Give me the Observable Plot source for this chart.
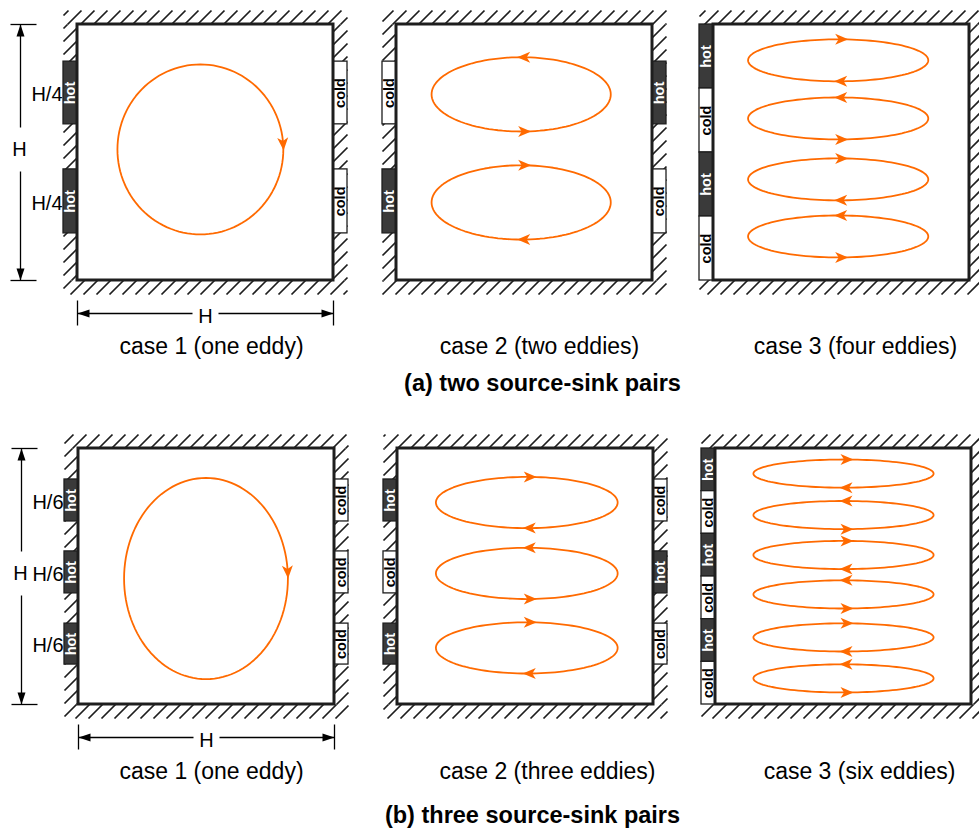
<!DOCTYPE html>
<html><head><meta charset="utf-8">
<script src="https://cdn.jsdelivr.net/npm/d3@7"></script>
<script src="https://cdn.jsdelivr.net/npm/@observablehq/plot@0.6"></script>
<style>body{margin:0;background:#fff}</style>
</head><body><div id="chart"></div>
<script>
// ---------- DATA ----------
const rowTitles = ["(a) two source-sink pairs", "(b) three source-sink pairs"];
const caseLabels = [
  ["case 1 (one eddy)", "case 2 (two eddies)", "case 3 (four eddies)"],
  ["case 1 (one eddy)", "case 2 (three eddies)", "case 3 (six eddies)"]
];
const dimLabels = [["H", "H/4"], ["H", "H/6"]];
// heat sources/sinks: [wall, kind, from, to] (fraction of H from the top)
const sourcesA1 = [["left","hot",0.145,0.39],["left","hot",0.566,0.816],["right","cold",0.145,0.39],["right","cold",0.566,0.816]];
const sourcesA2 = [["left","cold",0.145,0.39],["left","hot",0.566,0.816],["right","hot",0.145,0.39],["right","cold",0.566,0.816]];
const sourcesA3 = [["left","hot",0,0.25],["left","cold",0.25,0.5],["left","hot",0.5,0.75],["left","cold",0.75,1]];
const sourcesB1 = [["left","hot",0.121,0.285],["left","hot",0.402,0.566],["left","hot",0.684,0.844],["right","cold",0.121,0.285],["right","cold",0.402,0.566],["right","cold",0.684,0.844]];
const sourcesB2 = [["left","hot",0.121,0.285],["left","cold",0.402,0.566],["left","hot",0.684,0.844],["right","cold",0.121,0.285],["right","hot",0.402,0.566],["right","cold",0.684,0.844]];
const sourcesB3 = [["left","hot",0,1/6],["left","cold",1/6,2/6],["left","hot",2/6,3/6],["left","cold",3/6,4/6],["left","hot",4/6,5/6],["left","cold",5/6,1]];
// eddies: [cx, cy, rx, ry, direction] (fractions of H)
const eddiesA1 = [[0.48,0.488,0.324,0.332,"cw"]];
const eddiesA2 = [[0.487,0.273,0.35,0.145,"ccw"],[0.487,0.695,0.35,0.145,"cw"]];
const eddiesA3 = [[0.487,0.14,0.352,0.082,"cw"],[0.487,0.367,0.352,0.082,"ccw"],[0.487,0.605,0.352,0.082,"cw"],[0.487,0.828,0.352,0.082,"ccw"]];
const eddiesB1 = [[0.498,0.508,0.32,0.393,"cw"]];
const eddiesB2 = [[0.505,0.211,0.355,0.1,"cw"],[0.505,0.488,0.355,0.1,"ccw"],[0.505,0.779,0.355,0.1,"cw"]];
const eddiesB3 = [[0.5,0.098,0.352,0.055,"cw"],[0.5,0.26,0.352,0.055,"ccw"],[0.5,0.416,0.352,0.055,"cw"],[0.5,0.57,0.352,0.055,"ccw"],[0.5,0.738,0.352,0.055,"cw"],[0.5,0.898,0.352,0.055,"ccw"]];

// ---------- LAYOUT ----------
const S = 256, WALL = 14, STEP = 13;
const rows = [{top: 24, lefts: [77, 396, 713]}, {top: 448, lefts: [78, 397, 715]}];
const captionX = [[211, 539, 855], [211, 547, 859]];
const captionY = [346, 771], titleY = [383, 815], titleX = [542, 532];
const panelSources = [[sourcesA1, sourcesA2, sourcesA3], [sourcesB1, sourcesB2, sourcesB3]];
const panelEddies = [[eddiesA1, eddiesA2, eddiesA3], [eddiesB1, eddiesB2, eddiesB3]];
const ORANGE = "#ff6a00", DARK = "#1e1e1e", HOTFILL = "#3a3a3a";
const FONT = "'Liberation Sans', Arial, Helvetica, sans-serif";

const hatch = [], boxes = [], srcRects = [], eddyPts = [], arrows = [];
const dimLines = [], dimHeads = [], dimMain = [], dimFrac = [], captions = [];

rows.forEach((row, r) => {
  row.lefts.forEach((L, c) => {
    const T = row.top, R = L + S, B = T + S;
    boxes.push({x1: L, x2: R, y1: T, y2: B});
    const bands = [[L - WALL, R + WALL, T - WALL, T], [L - WALL, L, T, B], [R, R + WALL, T, B], [L - WALL, R + WALL, B, B + WALL]];
    for (const [x0, x1, y0, y1] of bands) {
      for (let k = Math.ceil((x0 + y0) / STEP); k * STEP <= x1 + y1; k++) {
        const cc = k * STEP;
        const xa = Math.max(x0, cc - y1), xb = Math.min(x1, cc - y0);
        if (xb - xa > 0.5) hatch.push({x1: xa, y1: cc - xa, x2: xb, y2: cc - xb});
      }
    }
    const own = [];
    for (const [wall, kind, f0, f1] of panelSources[r][c]) {
      const x1 = wall === "left" ? L - WALL : R, x2 = x1 + WALL;
      const s = {x1, x2, y1: T + f0 * S, y2: T + f1 * S, kind, wall, xc: (x1 + x2) / 2, yc: T + (f0 + f1) / 2 * S};
      srcRects.push(s); own.push(s);
    }
    panelEddies[r][c].forEach(([fx, fy, frx, fry, dir], i) => {
      const cx = L + fx * S, cy = T + fy * S, rx = frx * S, ry = fry * S;
      const id = `${r}-${c}-${i}`;
      for (let a = 0; a <= 360; a += 3) {
        const t = a * Math.PI / 180;
        eddyPts.push({x: cx + rx * Math.cos(t), y: cy + ry * Math.sin(t), id});
      }
      const sgn = dir === "cw" ? 1 : -1;
      const angles = fry / frx > 0.8 ? [-4] : [-90, 90];
      for (const a of angles) {
        const t = a * Math.PI / 180;
        const dx = -rx * Math.sin(t) * sgn, dy = ry * Math.cos(t) * sgn;
        arrows.push({x: cx + rx * Math.cos(t) + (angles.length > 1 ? 3 : 0), y: cy + ry * Math.sin(t), rot: Math.atan2(dy, dx) * 180 / Math.PI});
      }
    });
    if (c === 0) {
      const vx = L - 57, mid = T + S / 2 - 3;
      dimLines.push({x1: L - 67, x2: L - 41, y1: T, y2: T}, {x1: L - 67, x2: L - 41, y1: B, y2: B});
      dimLines.push({x1: vx, x2: vx, y1: T, y2: mid - 22}, {x1: vx, x2: vx, y1: mid + 22, y2: B});
      dimHeads.push({x: vx, y: T, rot: -90}, {x: vx, y: B, rot: 90});
      dimMain.push({x: vx - 1, y: mid, text: dimLabels[r][0]});
      const hy = B + 33, cxm = L + S / 2;
      dimLines.push({x1: L, x2: L, y1: B + 20, y2: B + 45}, {x1: R, x2: R, y1: B + 20, y2: B + 45});
      dimLines.push({x1: L, x2: cxm - 13, y1: hy, y2: hy}, {x1: cxm + 13, x2: R, y1: hy, y2: hy});
      dimHeads.push({x: L, y: hy, rot: 180}, {x: R, y: hy, rot: 0});
      dimMain.push({x: cxm, y: hy + 3, text: dimLabels[r][0]});
      for (const s of own.filter(s => s.wall === "left")) {
        dimFrac.push({x: L - WALL - 1, y: s.yc + 2, text: dimLabels[r][1]});
      }
    }
    captions.push({x: captionX[r][c], y: captionY[r], text: caseLabels[r][c]});
  });
});
const titles = rowTitles.map((t, r) => ({x: titleX[r], y: titleY[r], text: t}));

const orangeHead = {draw(ctx) { ctx.moveTo(7, 0); ctx.lineTo(-6, -5.5); ctx.lineTo(-2.5, 0); ctx.lineTo(-6, 5.5); ctx.closePath(); }};
const blackHead = {draw(ctx) { ctx.moveTo(0, 0); ctx.lineTo(-12, -4); ctx.lineTo(-12, 4); ctx.closePath(); }};

const chart = Plot.plot({
  width: 979, height: 835, margin: 0,
  x: {type: "identity"}, y: {type: "identity"},
  style: {fontFamily: FONT, background: "#fff"},
  marks: [
    Plot.link(hatch, {x1: "x1", y1: "y1", x2: "x2", y2: "y2", stroke: DARK, strokeWidth: 1.7}),
    Plot.rect(srcRects, {x1: "x1", x2: "x2", y1: "y1", y2: "y2", fill: d => d.kind === "hot" ? HOTFILL : "#fff", stroke: DARK, strokeWidth: 1.3}),
    Plot.text(srcRects, {x: "xc", y: "yc", text: "kind", rotate: -90, fill: d => d.kind === "hot" ? "#fff" : "#000", fontWeight: "bold", fontSize: 14.5}),
    Plot.rect(boxes, {x1: "x1", x2: "x2", y1: "y1", y2: "y2", fill: "none", stroke: DARK, strokeWidth: 3}),
    Plot.line(eddyPts, {x: "x", y: "y", z: "id", stroke: ORANGE, strokeWidth: 1.8}),
    Plot.dot(arrows, {x: "x", y: "y", rotate: "rot", symbol: orangeHead, fill: ORANGE, stroke: "none", r: 5}),
    Plot.link(dimLines, {x1: "x1", y1: "y1", x2: "x2", y2: "y2", stroke: "#000", strokeWidth: 1.3}),
    Plot.dot(dimHeads, {x: "x", y: "y", rotate: "rot", symbol: blackHead, fill: "#000", stroke: "none", r: 5}),
    Plot.text(dimMain, {x: "x", y: "y", text: "text", textAnchor: "middle", fontSize: 20, fill: "#000"}),
    Plot.text(dimFrac, {x: "x", y: "y", text: "text", textAnchor: "end", fontSize: 20, fill: "#000"}),
    Plot.text(captions, {x: "x", y: "y", text: "text", fontSize: 23, fill: "#000"}),
    Plot.text(titles, {x: "x", y: "y", text: "text", fontSize: 23.5, fontWeight: "bold", fill: "#000"})
  ]
});
document.getElementById("chart").appendChild(chart);
</script></body></html>
